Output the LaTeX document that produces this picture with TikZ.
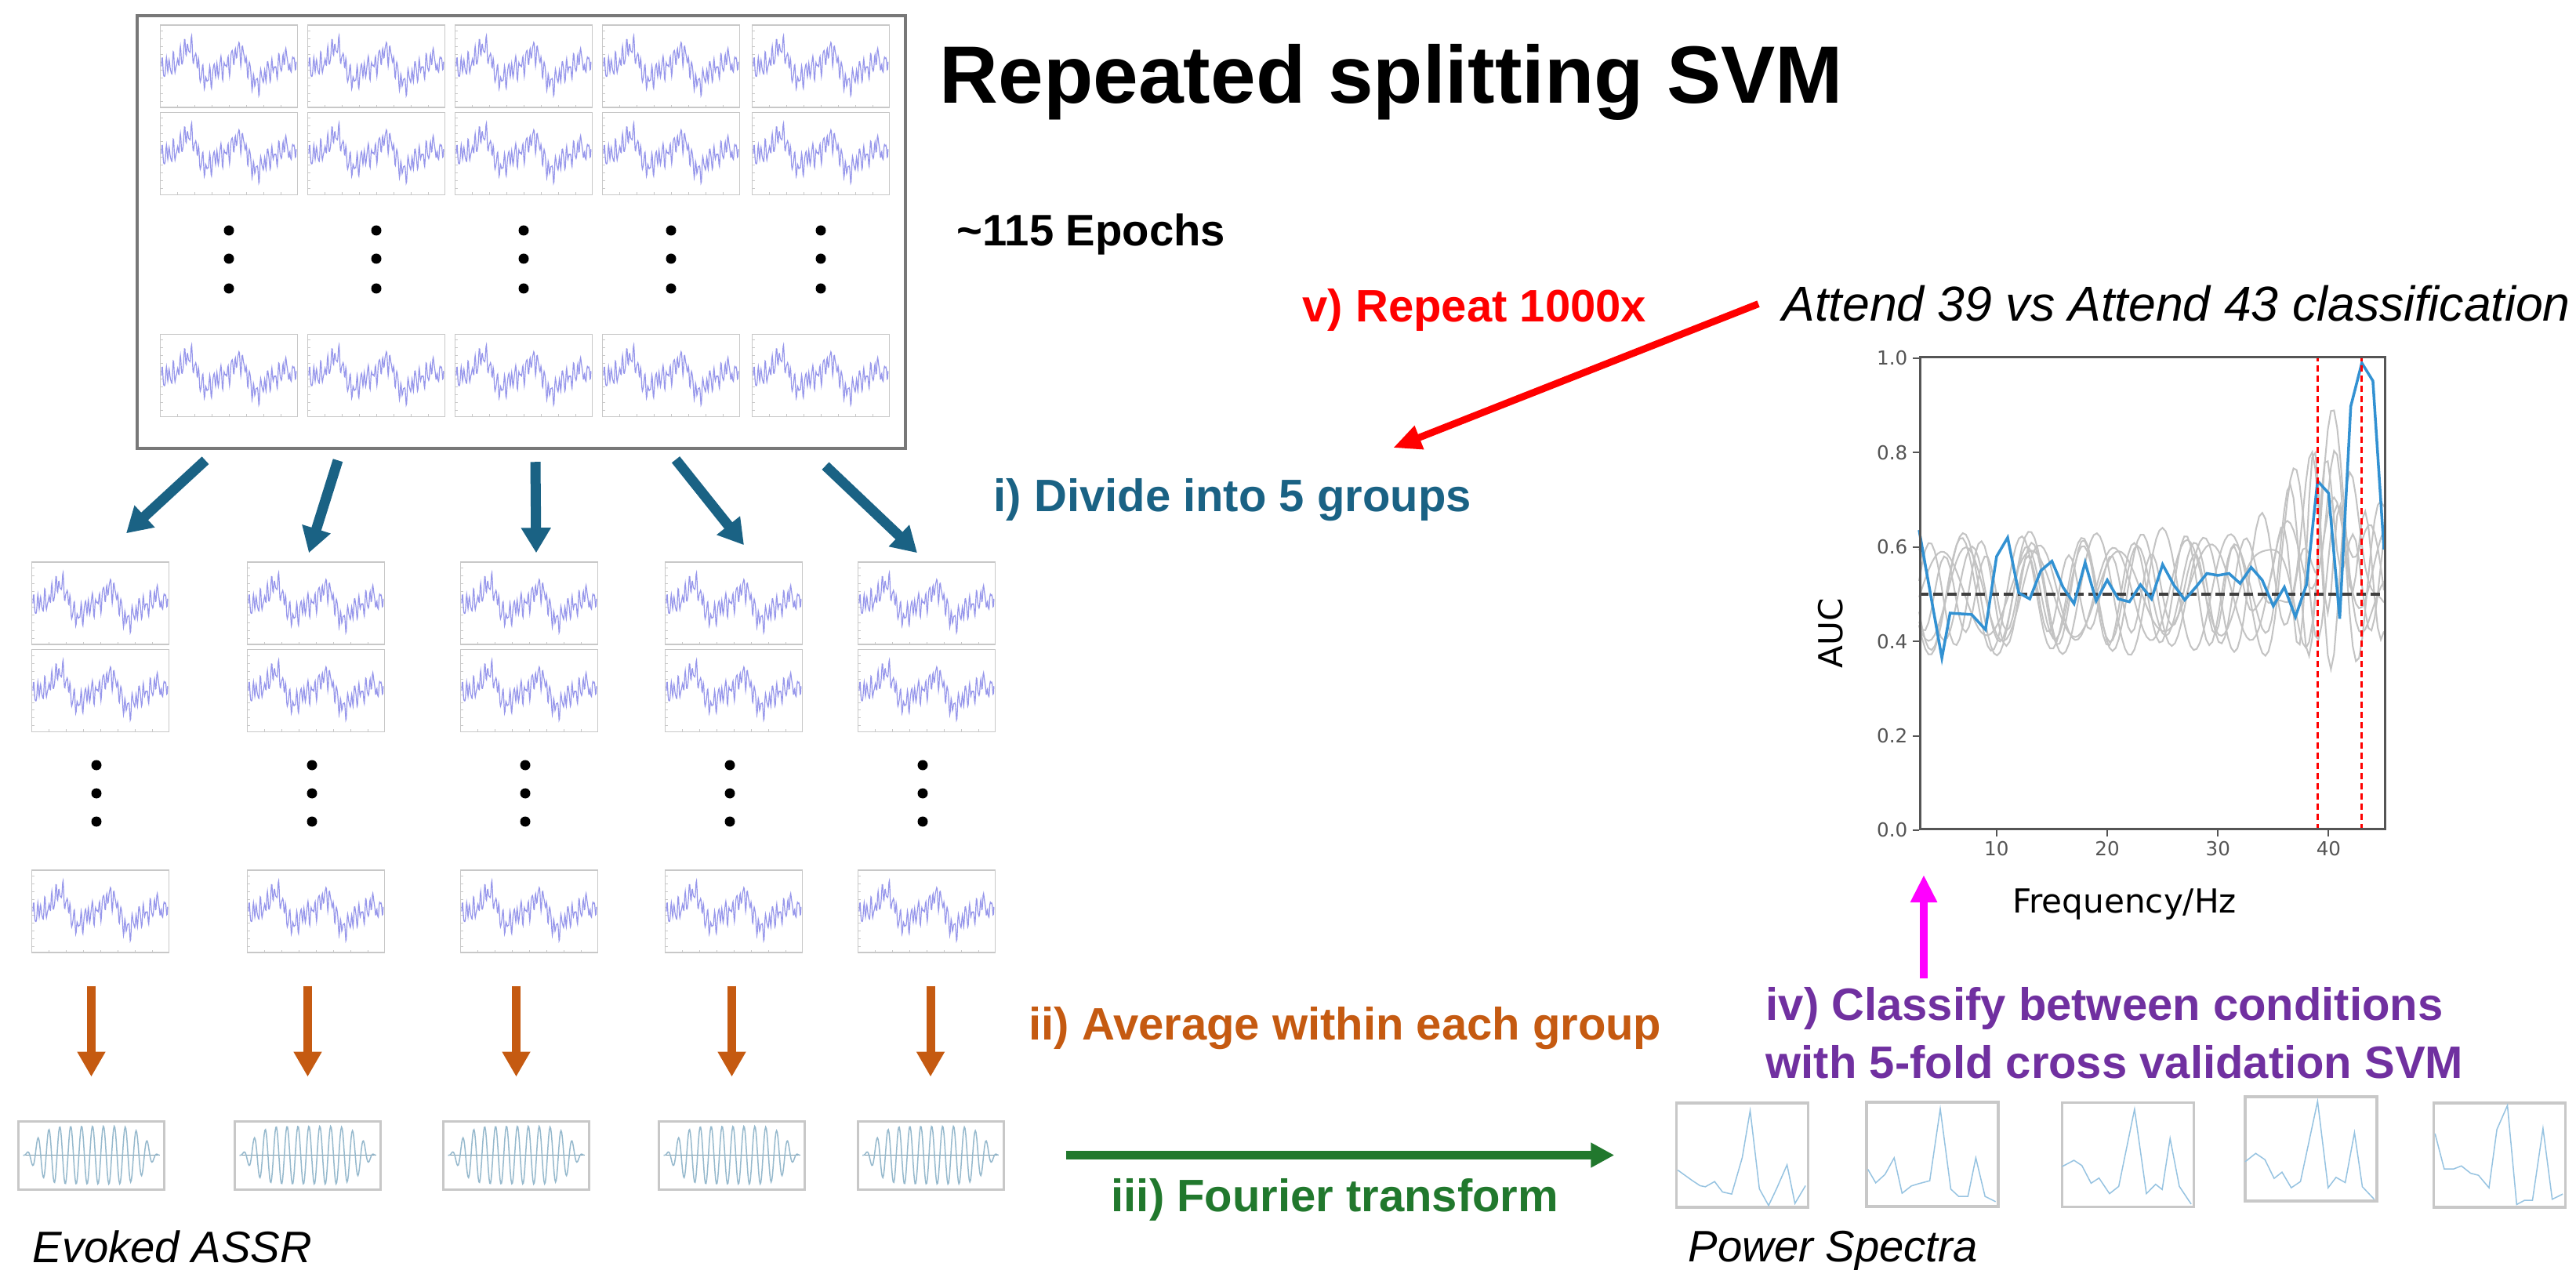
\documentclass[tikz,border=0pt]{standalone}
\usepackage{fontspec}
\setmainfont{Liberation Sans}
\newfontfamily\plotfont{DejaVu Sans}
\usepackage{tikz}
\usetikzlibrary{positioning, calc, arrows.meta}
\definecolor{divteal}{RGB}{26, 98, 132}
\definecolor{avgorange}{RGB}{197, 90, 17}
\definecolor{fftgreen}{RGB}{33, 120, 45}
\definecolor{svmpurple}{RGB}{112, 48, 160}
\definecolor{svmmagenta}{RGB}{255, 0, 255}
\definecolor{eegblue}{RGB}{150, 150, 235}
\definecolor{assrblue}{RGB}{150, 185, 205}
\definecolor{specblue}{RGB}{150, 195, 225}
\definecolor{framegray}{RGB}{200, 200, 200}
\definecolor{boxgray}{RGB}{120, 120, 120}
\definecolor{aucblue}{RGB}{50, 145, 210}
\definecolor{curvegray}{RGB}{195, 195, 195}
\definecolor{axisgray}{RGB}{85, 85, 85}

\tikzset{
	epoch/.pic={
		\draw[framegray, line width=0.015cm] (-0.875,-0.525) rectangle (0.875,0.525);
		\foreach \t in {-0.45,-0.35,...,0.46} \draw[framegray, line width=0.01cm] (-0.875,\t) -- (-0.845,\t);
		\foreach \t in {-0.655,-0.435,...,0.7} \draw[framegray, line width=0.01cm] (\t,-0.525) -- (\t,-0.495);
		\draw[eegblue, line width=0.012cm] plot[domain=0:1, samples=300] ({-0.86+1.72*\x}, {0.05+0.16*cos(972*(\x-0.18))-0.1*\x+0.07*sin(360*mod(5.3*\x,1)+40)+0.09*sin(360*mod(37*\x,1))+0.06*sin(360*mod(23*\x,1)+70)+0.04*sin(360*mod(59*\x,1)+10)-0.35*max(0,1-abs(\x-0.955)/0.015)});
	},
	assrwave/.pic={
		\draw[assrblue!80!black, line width=0.012cm] (-0.87,0) -- (0.87,0);
		\draw[assrblue, line width=0.015cm] plot[domain=0:1, samples=200] ({-0.87+1.74*\x}, {0.37*(1-((2*\x-1)*(2*\x-1))^3)^2*sin(4500*\x-40)});
	}
}

\begin{document}
\begin{tikzpicture}[
			stage/.style={inner sep=0, anchor=base west, font=\fontsize{16.5pt}{21pt}\selectfont\bfseries},
			caption/.style={inner sep=0, anchor=base west, font=\fontsize{16pt}{19pt}\selectfont\itshape},
			epochgroup/.style={minimum width=1.76cm, minimum height=4.98cm, inner sep=0},
			assrbox/.style={draw=framegray, line width=0.03cm, minimum width=1.86cm, minimum height=0.87cm, inner sep=0},
			specbox/.style={draw=framegray, line width=0.035cm, minimum width=1.68cm, minimum height=1.33cm, inner sep=0},
			specline/.style={specblue, line width=0.015cm},
			ticklabel/.style={inner sep=0, text=axisgray, font=\plotfont\fontsize{7pt}{8pt}\selectfont},
			axislabel/.style={inner sep=0, font=\plotfont\fontsize{12pt}{14pt}\selectfont},
			divarrow/.style={line width=0.13cm, draw=divteal, -{Triangle[length=0.32cm, width=0.36cm]}},
			avgarrow/.style={line width=0.11cm, draw=avgorange, -{Triangle[length=0.32cm, width=0.34cm]}},
			fftarrow/.style={line width=0.11cm, draw=fftgreen, -{Triangle[length=0.3cm, width=0.3cm]}},
			repeatarrow/.style={line width=0.09cm, draw=red, -{Triangle[length=0.36cm, width=0.3cm]}},
			svmarrow/.style={line width=0.1cm, draw=svmmagenta, -{Triangle[length=0.35cm, width=0.32cm]}}
		]
		\path[use as bounding box, fill=white] (0,0) rectangle (32.86,16.19);

		% all epochs
		\node (epochs) [draw=boxgray, line width=0.045cm, minimum width=9.8cm, minimum height=5.52cm, inner sep=0] at (6.65,13.23) {};
		\foreach \cx in {2.92,4.80,6.68,8.56,10.47} {
			\foreach \cy in {15.345,14.23,11.40} \pic at (\cx,\cy) {epoch};
			\foreach \dy in {13.25,12.89,12.51} \fill (\cx,\dy) circle (0.065);
		}

		\node (title) [inner sep=0, anchor=base west, font=\fontsize{29.5pt}{35pt}\selectfont\bfseries] at (11.98,14.87) {Repeated splitting SVM};
		\node (count) [stage, font=\fontsize{16pt}{19pt}\selectfont\bfseries] at (12.20,13.05) {\textasciitilde115 Epochs};
		\node (repeatlbl) [stage, text=red] at (16.61,12.08) {v) Repeat 1000x};
		\node (attend) [caption, font=\fontsize{17.8pt}{21pt}\selectfont\itshape] at (22.73,12.09) {Attend 39 vs Attend 43 classification};
		\node (divide) [stage, text=divteal] at (12.67,9.66) {i) Divide into 5 groups};

		% five groups
		\foreach \i/\cx in {1/1.28,2/4.03,3/6.75,4/9.36,5/11.82} {
			\node (grp\i) [epochgroup] at (\cx,6.53) {};
			\pic at (\cx,8.495) {epoch};
			\pic at (\cx,7.38) {epoch};
			\pic at (\cx,4.565) {epoch};
			\foreach \dy in {6.43,6.07,5.71} \fill ($(\cx,\dy)+(-0.05,0)$) circle (0.065);
		}

		% averaged responses
		\foreach \i/\cx in {1/1.165,2/3.925,3/6.585,4/9.335,5/11.87} {
			\node (assr\i) [assrbox] at (\cx,1.455) {};
			\pic at (assr\i) {assrwave};
		}
		\node (evoked) [caption] at (0.41,0.09) {Evoked ASSR};
		\node (average) [stage, text=avgorange] at (13.12,2.93) {ii) Average within each group};
		\node (fourier) [stage, text=fftgreen] at (14.17,0.74) {iii) Fourier transform};

		% spectra
		\node (spec1) [specbox] at (22.225,1.455) {};
		\node (spec2) [specbox] at (24.65,1.465) {};
		\node (spec3) [specbox] at (27.145,1.46) {};
		\node (spec4) [specbox] at (29.48,1.535) {};
		\node (spec5) [specbox] at (31.885,1.455) {};
		\draw[specline, shift={(spec1.south west)}, x=1.68cm, y=1.33cm] plot coordinates {(0.02,0.37) (0.13,0.27) (0.19,0.22) (0.23,0.21) (0.30,0.26) (0.36,0.16) (0.43,0.14) (0.51,0.49) (0.57,0.94) (0.64,0.19) (0.71,0.03) (0.77,0.19) (0.85,0.42) (0.91,0.05) (0.99,0.22)};
		\draw[specline, shift={(spec2.south west)}, x=1.68cm, y=1.33cm] plot coordinates {(0.02,0.37) (0.08,0.24) (0.15,0.32) (0.22,0.48) (0.28,0.14) (0.35,0.21) (0.40,0.23) (0.49,0.26) (0.57,0.95) (0.65,0.18) (0.71,0.11) (0.78,0.11) (0.84,0.48) (0.91,0.11) (0.99,0.06)};
		\draw[specline, shift={(spec3.south west)}, x=1.68cm, y=1.33cm] plot coordinates {(0.01,0.40) (0.10,0.46) (0.16,0.41) (0.23,0.24) (0.29,0.29) (0.37,0.14) (0.44,0.21) (0.56,0.95) (0.65,0.14) (0.72,0.23) (0.77,0.18) (0.83,0.67) (0.90,0.21) (0.99,0.04)};
		\draw[specline, shift={(spec4.south west)}, x=1.68cm, y=1.33cm] plot coordinates {(0.01,0.39) (0.09,0.47) (0.16,0.41) (0.23,0.23) (0.29,0.29) (0.36,0.14) (0.43,0.20) (0.56,0.97) (0.64,0.14) (0.70,0.24) (0.77,0.19) (0.84,0.67) (0.90,0.15) (0.99,0.03)};
		\draw[specline, shift={(spec5.south west)}, x=1.68cm, y=1.33cm] plot coordinates {(0.02,0.72) (0.09,0.38) (0.16,0.38) (0.22,0.41) (0.29,0.34) (0.35,0.32) (0.43,0.20) (0.49,0.76) (0.57,0.99) (0.64,0.04) (0.70,0.08) (0.76,0.08) (0.84,0.77) (0.91,0.09) (0.99,0.14)};
		\node (spectra) [caption] at (21.53,0.10) {Power Spectra};
		\node (classify) [stage, text=svmpurple, anchor=north west, align=left] at (22.52,3.60) {iv) Classify between conditions\\with 5-fold cross validation SVM};

		% AUC plot
		\begin{scope}[shift={(24.0564,5.60)}, x=0.14119cm, y=6.02cm]
			\foreach \k/\p/\a in {1.1/0/0.12, 0.9/60/0.1, 1.3/140/0.11, 0.75/220/0.09, 1.6/300/0.08, 1.0/30/0.13, 1.2/250/0.1}
				\draw[curvegray, line width=0.02cm] plot[domain=3:45, samples=150] (\x, {0.5+\a*sin(\k*60*\x+\p)+(0.12+0.18*sin(\k*90*\x+\p))/(1+((\x-40)/3)*((\x-40)/3))});
			\draw[black!75, line width=0.04cm, dash pattern=on 0.12cm off 0.06cm] (3,0.5) -- (45,0.5);
			\draw[aucblue, line width=0.035cm] plot coordinates {(3,0.636) (5.06,0.365) (5.8,0.46) (7.75,0.457) (9,0.425) (10,0.58) (11,0.62) (12,0.503) (13,0.49) (14,0.55) (15,0.57) (16,0.515) (17,0.48) (18,0.567) (19,0.486) (20,0.53) (21,0.49) (22,0.484) (23,0.52) (24,0.49) (25,0.563) (26,0.52) (27,0.488) (28,0.515) (29,0.544) (30,0.54) (31,0.544) (32,0.523) (33,0.557) (34,0.53) (35,0.475) (36,0.515) (37,0.452) (38,0.52) (39,0.74) (40,0.714) (41,0.448) (42,0.898) (43,0.99) (44,0.952) (45,0.595)};
			\draw[red, line width=0.03cm, dash pattern=on 0.08cm off 0.05cm] (39,0) -- (39,1) (43,0) -- (43,1);
			\foreach \v [count=\n] in {0.0,0.2,0.4,0.6,0.8,1.0} {
				\draw[axisgray, line width=0.02cm] (3,\v) -- ++(-0.08cm,0);
				\node (ytick\n) [ticklabel, anchor=east] at ([xshift=-0.14cm]3,\v) {\v};
			}
			\foreach \f in {10,20,30,40} {
				\draw[axisgray, line width=0.02cm] (\f,0) -- ++(0,-0.08cm);
				\node (xtick\f) [ticklabel, anchor=north] at ([yshift=-0.14cm]\f,0) {\f};
			}
		\end{scope}
		\node (aucaxes) [draw=axisgray, line width=0.028cm, minimum width=5.93cm, minimum height=6.02cm, inner sep=0, anchor=south west] at (24.48,5.60) {};
		\node (auclabel) [axislabel, rotate=90] at (23.35,8.11) {AUC};
		\node (freqlabel) [axislabel] at (27.10,4.65) {Frequency/Hz};

		% connectors
		\foreach \sx/\sy/\g/\ex/\ey in {-4.03/-0.13/1/0.33/0.36, -2.34/-0.13/2/-0.09/0.11, 0.18/-0.15/3/0.09/0.11, 1.97/-0.12/4/0.13/0.21, 3.88/-0.20/5/-0.12/0.11}
			\draw[divarrow] ([shift={(\sx,\sy)}]epochs.south) -- ([shift={(\ex,\ey)}]grp\g.north);
		\foreach \i in {1,...,5}
			\draw[avgarrow] ($(grp\i.south -| assr\i.north)+(0,-0.42)$) -- ([yshift=0.55cm]assr\i.north);
		\draw[fftarrow, shorten <=0.78cm, shorten >=0.775cm] (assr5.east) -- (spec1.west);
		\draw[repeatarrow] ([xshift=-0.3cm]attend.west) -- ([shift={(5.10,0.39)}]divide.north west);
		\draw[svmarrow] ($(aucaxes.south west |- classify.north)+(0.06,0.11)$) -- ([shift={(0.06,-0.57)}]aucaxes.south west);

	\end{tikzpicture}
\end{document}
